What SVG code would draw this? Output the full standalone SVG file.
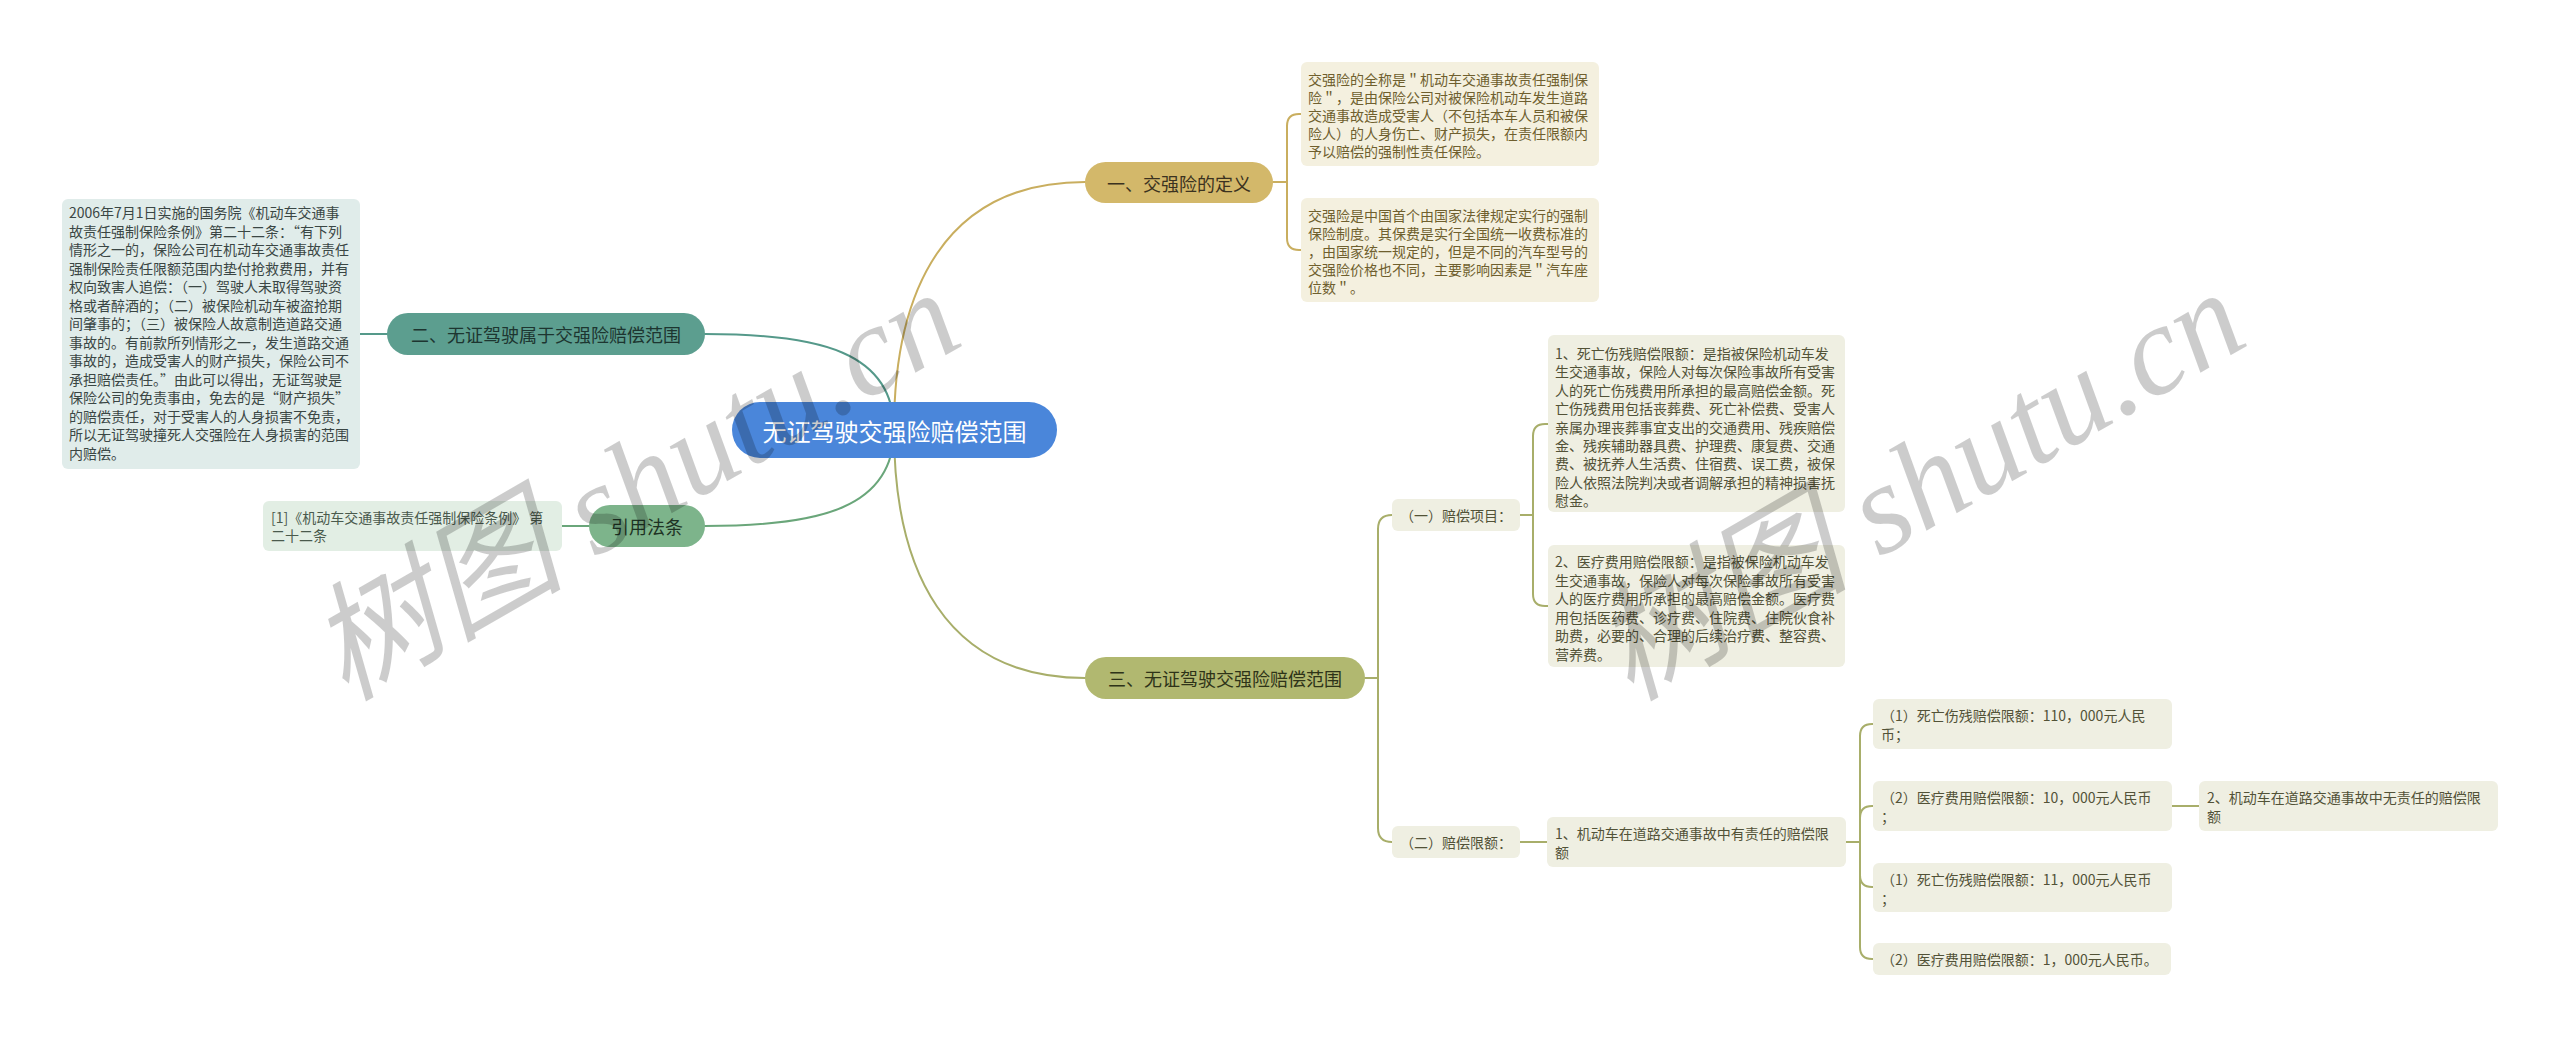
<svg xmlns="http://www.w3.org/2000/svg" width="2560" height="1037" viewBox="0 0 2560 1037">
<style>
text{font-family:"Noto Sans CJK SC","Noto Sans",sans-serif;}
.pill{font-size:18px;text-anchor:middle;dominant-baseline:central;}
.root{font-size:24px;fill:#ffffff;text-anchor:middle;dominant-baseline:central;}
.t{font-size:14px;dominant-baseline:central;}
.gold{fill:#6f5f2e;}
.teal{fill:#3a4644;}
.grn{fill:#4a5a4d;}
.olv{fill:#525237;}
.c{fill:none;stroke-width:2;stroke-linecap:round;}
.cg{stroke:#c9ae5f;}
.ct{stroke:#55998a;}
.cn{stroke:#6aa67a;}
.co{stroke:#a8ae6a;}
.wm{font-family:"Liberation Serif","Noto Sans CJK SC",serif;font-style:italic;font-size:128px;fill:#000;fill-opacity:0.2;}
</style>

<g id="connectors">
  <path class="c cg" d="M894,430 C894,290 945,182 1085,182" stroke-width="2.5"/>
  <path class="c ct" d="M894,430 C894,352 820,334 705,334" stroke-width="2.5"/>
  <path class="c cn" d="M894,430 C894,508 820,526 705,526" stroke-width="2.5"/>
  <path class="c co" d="M894,430 C894,570 945,678 1085,678" stroke-width="2.5"/>
  <path class="c cg" d="M1273,182 L1287,182 M1287,182 L1287,126 Q1287,114 1299,114 L1301,114 M1287,182 L1287,238 Q1287,250 1299,250 L1301,250"/>
  <path class="c ct" d="M387,334 L360,334"/>
  <path class="c cn" d="M589,526 L562,526"/>
  <path class="c co" d="M1365,678 L1378,678 M1378,678 L1378,529 Q1378,515 1392,515 M1378,678 L1378,828 Q1378,842 1392,842"/>
  <path class="c co" d="M1520,515 L1533,515 M1533,515 L1533,436 Q1533,424 1545,424 L1548,424 M1533,515 L1533,594 Q1533,606 1545,606 L1548,606"/>
  <path class="c co" d="M1520,842 L1548,842"/>
  <path class="c co" d="M1846,842 L1860,842 M1860,842 L1860,736 Q1860,724 1872,724 L1873,724 M1860,842 L1860,818 Q1860,806 1872,806 L1873,806 M1860,842 L1860,875 Q1860,887 1872,887 L1873,887 M1860,842 L1860,947 Q1860,959 1872,959 L1873,959"/>
  <path class="c co" d="M2172,806 L2199,806"/>
</g>

<g id="root">
  <rect x="732" y="402" width="325" height="56" rx="28" fill="#4a86da"/>
  <text class="root" x="894.5" y="430">无证驾驶交强险赔偿范围</text>
</g>

<g id="n1">
  <rect x="1085" y="162" width="188" height="41" rx="20.5" fill="#d3b86a"/>
  <text class="pill" x="1179" y="182.5" fill="#3b3220">一、交强险的定义</text>
</g>
<g id="n1a">
  <rect x="1301" y="62" width="298" height="104" rx="6" fill="#f4f0df"/>
  <text class="t gold" x="1308">
    <tspan x="1308" y="79">交强险的全称是＂机动车交通事故责任强制保</tspan>
    <tspan x="1308" y="97">险＂，是由保险公司对被保险机动车发生道路</tspan>
    <tspan x="1308" y="115">交通事故造成受害人（不包括本车人员和被保</tspan>
    <tspan x="1308" y="133">险人）的人身伤亡、财产损失，在责任限额内</tspan>
    <tspan x="1308" y="151">予以赔偿的强制性责任保险。</tspan>
  </text>
</g>
<g id="n1b">
  <rect x="1301" y="198" width="298" height="104" rx="6" fill="#f4f0df"/>
  <text class="t gold">
    <tspan x="1308" y="215">交强险是中国首个由国家法律规定实行的强制</tspan>
    <tspan x="1308" y="233">保险制度。其保费是实行全国统一收费标准的</tspan>
    <tspan x="1308" y="251">，由国家统一规定的，但是不同的汽车型号的</tspan>
    <tspan x="1308" y="269">交强险价格也不同，主要影响因素是＂汽车座</tspan>
    <tspan x="1308" y="287">位数＂。</tspan>
  </text>
</g>

<g id="n2">
  <rect x="387" y="313" width="318" height="42" rx="21" fill="#5c9e8f"/>
  <text class="pill" x="546" y="334" fill="#1d3530">二、无证驾驶属于交强险赔偿范围</text>
</g>
<g id="n2a">
  <rect x="62" y="199" width="298" height="270" rx="6" fill="#e0ecea"/>
  <text class="t teal">
    <tspan x="69" y="212">2006年7月1日实施的国务院《机动车交通事</tspan>
    <tspan x="69" y="230.5">故责任强制保险条例》第二十二条：“有下列</tspan>
    <tspan x="69" y="249">情形之一的，保险公司在机动车交通事故责任</tspan>
    <tspan x="69" y="267.5">强制保险责任限额范围内垫付抢救费用，并有</tspan>
    <tspan x="69" y="286">权向致害人追偿：（一）驾驶人未取得驾驶资</tspan>
    <tspan x="69" y="304.5">格或者醉酒的；（二）被保险机动车被盗抢期</tspan>
    <tspan x="69" y="323">间肇事的；（三）被保险人故意制造道路交通</tspan>
    <tspan x="69" y="341.5">事故的。有前款所列情形之一，发生道路交通</tspan>
    <tspan x="69" y="360">事故的，造成受害人的财产损失，保险公司不</tspan>
    <tspan x="69" y="378.5">承担赔偿责任。”由此可以得出，无证驾驶是</tspan>
    <tspan x="69" y="397">保险公司的免责事由，免去的是“财产损失”</tspan>
    <tspan x="69" y="415.5">的赔偿责任，对于受害人的人身损害不免责，</tspan>
    <tspan x="69" y="434">所以无证驾驶撞死人交强险在人身损害的范围</tspan>
    <tspan x="69" y="452.5">内赔偿。</tspan>
  </text>
</g>

<g id="n3">
  <rect x="589" y="505" width="116" height="42" rx="21" fill="#7db48b"/>
  <text class="pill" x="647" y="526" fill="#1e3324">引用法条</text>
</g>
<g id="n3a">
  <rect x="263" y="501" width="299" height="50" rx="6" fill="#e2eee4"/>
  <text class="t grn">
    <tspan x="271" y="517">[1]《机动车交通事故责任强制保险条例》 第</tspan>
    <tspan x="271" y="535">二十二条</tspan>
  </text>
</g>

<g id="n4">
  <rect x="1085" y="657" width="280" height="42" rx="21" fill="#b1b870"/>
  <text class="pill" x="1225" y="678" fill="#2e3318">三、无证驾驶交强险赔偿范围</text>
</g>
<g id="n4a">
  <rect x="1392" y="499" width="128" height="32" rx="6" fill="#efefe2"/>
  <text class="t olv" x="1400" y="515">（一）赔偿项目：</text>
</g>
<g id="n4a1">
  <rect x="1548" y="335" width="297" height="177" rx="6" fill="#efefe2"/>
  <text class="t olv">
    <tspan x="1555" y="353">1、死亡伤残赔偿限额：是指被保险机动车发</tspan>
    <tspan x="1555" y="371.4">生交通事故，保险人对每次保险事故所有受害</tspan>
    <tspan x="1555" y="389.8">人的死亡伤残费用所承担的最高赔偿金额。死</tspan>
    <tspan x="1555" y="408.2">亡伤残费用包括丧葬费、死亡补偿费、受害人</tspan>
    <tspan x="1555" y="426.6">亲属办理丧葬事宜支出的交通费用、残疾赔偿</tspan>
    <tspan x="1555" y="445">金、残疾辅助器具费、护理费、康复费、交通</tspan>
    <tspan x="1555" y="463.4">费、被抚养人生活费、住宿费、误工费，被保</tspan>
    <tspan x="1555" y="481.8">险人依照法院判决或者调解承担的精神损害抚</tspan>
    <tspan x="1555" y="500.2">慰金。</tspan>
  </text>
</g>
<g id="n4a2">
  <rect x="1548" y="545" width="297" height="122" rx="6" fill="#efefe2"/>
  <text class="t olv">
    <tspan x="1555" y="561">2、医疗费用赔偿限额：是指被保险机动车发</tspan>
    <tspan x="1555" y="579.5">生交通事故，保险人对每次保险事故所有受害</tspan>
    <tspan x="1555" y="598">人的医疗费用所承担的最高赔偿金额。医疗费</tspan>
    <tspan x="1555" y="616.5">用包括医药费、诊疗费、住院费、住院伙食补</tspan>
    <tspan x="1555" y="635">助费，必要的、合理的后续治疗费、整容费、</tspan>
    <tspan x="1555" y="653.5">营养费。</tspan>
  </text>
</g>
<g id="n4b">
  <rect x="1392" y="826" width="128" height="32" rx="6" fill="#efefe2"/>
  <text class="t olv" x="1400" y="842">（二）赔偿限额：</text>
</g>
<g id="n4b1">
  <rect x="1547" y="817" width="299" height="50" rx="6" fill="#efefe2"/>
  <text class="t olv">
    <tspan x="1555" y="833">1、机动车在道路交通事故中有责任的赔偿限</tspan>
    <tspan x="1555" y="851.5">额</tspan>
  </text>
</g>
<g id="n4b1a">
  <rect x="1873" y="699" width="299" height="50" rx="6" fill="#efefe2"/>
  <text class="t olv">
    <tspan x="1881" y="715">（1）死亡伤残赔偿限额：110，000元人民</tspan>
    <tspan x="1881" y="733.5">币；</tspan>
  </text>
</g>
<g id="n4b1b">
  <rect x="1873" y="781" width="299" height="50" rx="6" fill="#efefe2"/>
  <text class="t olv">
    <tspan x="1881" y="797">（2）医疗费用赔偿限额：10，000元人民币</tspan>
    <tspan x="1881" y="815.5">；</tspan>
  </text>
</g>
<g id="n4b1c">
  <rect x="1873" y="863" width="299" height="49" rx="6" fill="#efefe2"/>
  <text class="t olv">
    <tspan x="1881" y="879">（1）死亡伤残赔偿限额：11，000元人民币</tspan>
    <tspan x="1881" y="897.5">；</tspan>
  </text>
</g>
<g id="n4b1d">
  <rect x="1873" y="943" width="298" height="32" rx="6" fill="#efefe2"/>
  <text class="t olv" x="1881" y="959">（2）医疗费用赔偿限额：1，000元人民币。</text>
</g>
<g id="n4b1b1">
  <rect x="2199" y="781" width="299" height="50" rx="6" fill="#efefe2"/>
  <text class="t olv">
    <tspan x="2207" y="797"> 2、机动车在道路交通事故中无责任的赔偿限</tspan>
    <tspan x="2207" y="815.5">额</tspan>
  </text>
</g>

<g id="watermark">
  <text class="wm" transform="translate(345,702) rotate(-30)">树图 shutu.cn</text>
  <text class="wm" transform="translate(1630,702) rotate(-30)">树图 shutu.cn</text>
</g>
</svg>
